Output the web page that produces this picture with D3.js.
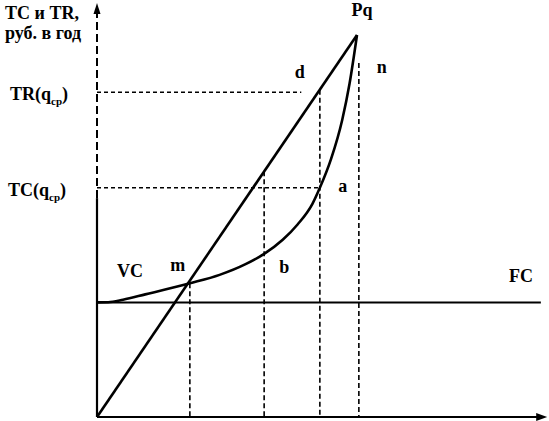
<!DOCTYPE html>
<html>
<head>
<meta charset="utf-8">
<script src="https://cdn.jsdelivr.net/npm/d3@7"></script>
<style>
html,body{margin:0;padding:0;background:#fff;}
svg{display:block;}
text{font-family:"Liberation Serif","Times New Roman",serif;font-weight:bold;fill:#000;}
</style>
</head>
<body>
<svg id="chart" width="549" height="421"></svg>
<script>
// ---- data ----
// TR (revenue) line: quantity vs value
const trQ = [0, 7];
const trV = [0, 100];
// VC/TC curve (starts on FC level)
const vcQ = [0, 0.3, 0.7, 1.3, 2.5, 3.3, 4.0, 4.5, 5.0, 5.4, 5.8, 6.0, 6.3, 6.6, 6.8, 7];
const vcV = [30, 30.05, 30.7, 32.1, 35, 37.2, 40.0, 42.7, 46.4, 50.4, 55.8, 60, 67.5, 77.7, 87.3, 100];
// fixed costs level
const fcValue = 30;
// vertical guide lines: quantity and top value
const guideQ = [2.5, 4.5, 6, 7.05];
const guideTop = [35, 64.3, 85.7, 92.7];
// horizontal guide lines: value and end quantity
const hGuideV = [85, 60];
const hGuideEnd = [5.5, 6];
// axis extents
const xAxisMax = 12.12;
const yAxisMax = 108.4;
const ySolidTop = 57.3;
// labels
const yTitle = ["TC и TR,", "руб. в год"];
const pointLabels = ["Pq", "d", "n", "a", "b", "m", "VC", "FC"];

// ---- scales ----
const x = d3.scaleLinear().domain([0, 7]).range([97, 357]);
const y = d3.scaleLinear().domain([0, 100]).range([417, 35]);

const svg = d3.select("#chart");

// horizontal guides
svg.selectAll(".hg").data(hGuideV).enter().append("line")
  .attr("x1", x(0)).attr("x2", (d, i) => x(hGuideEnd[i]))
  .attr("y1", d => y(d)).attr("y2", d => y(d))
  .attr("stroke", "#000").attr("stroke-width", 1.6).attr("stroke-dasharray", "4,3");

// vertical guides
svg.selectAll(".vg").data(guideQ).enter().append("line")
  .attr("x1", d => x(d)).attr("x2", d => x(d))
  .attr("y1", (d, i) => y(guideTop[i])).attr("y2", y(0))
  .attr("stroke", "#000").attr("stroke-width", 1.6).attr("stroke-dasharray", "5,3");

// FC line
svg.append("line")
  .attr("x1", x(0)).attr("x2", x(11.95))
  .attr("y1", y(fcValue)).attr("y2", y(fcValue))
  .attr("stroke", "#000").attr("stroke-width", 2);

// axes
svg.append("line").attr("x1", x(0)).attr("x2", x(0))
  .attr("y1", y(0)).attr("y2", y(ySolidTop))
  .attr("stroke", "#000").attr("stroke-width", 2.2);
svg.append("line").attr("x1", x(0)).attr("x2", x(0))
  .attr("y1", y(ySolidTop)).attr("y2", y(yAxisMax) + 8)
  .attr("stroke", "#000").attr("stroke-width", 2).attr("stroke-dasharray", "8,4");
svg.append("line").attr("x1", x(0)).attr("x2", x(xAxisMax) - 8)
  .attr("y1", y(0)).attr("y2", y(0))
  .attr("stroke", "#000").attr("stroke-width", 2.2);
// arrowheads
const yt = y(yAxisMax), xt = x(xAxisMax);
svg.append("path").attr("d", `M${x(0)},${yt} L${x(0)-3.5},${yt+11} L${x(0)+3.5},${yt+11} Z`).attr("fill", "#000");
svg.append("path").attr("d", `M${xt},${y(0)} L${xt-11},${y(0)-4} L${xt-11},${y(0)+4} Z`).attr("fill", "#000");

// TR line
const line = d3.line().x(d => x(d[0])).y(d => y(d[1]));
svg.append("path").datum(trQ.map((q, i) => [q, trV[i]]))
  .attr("d", line).attr("fill", "none").attr("stroke", "#000").attr("stroke-width", 2.6);

// VC curve
const curve = d3.line().x(d => x(d[0])).y(d => y(d[1])).curve(d3.curveMonotoneX);
svg.append("path").datum(vcQ.map((q, i) => [q, vcV[i]]))
  .attr("d", curve).attr("fill", "none").attr("stroke", "#000").attr("stroke-width", 2.6);

// y title
svg.append("text").attr("x", 5).attr("y", 19).attr("font-size", 18).text(yTitle[0]);
svg.append("text").attr("x", 5).attr("y", 39).attr("font-size", 18).text(yTitle[1]);

// TR(qср), TC(qср)
function subLabel(prefix, yy, xx) {
  const t = svg.append("text").attr("x", xx).attr("y", yy).attr("font-size", 18);
  t.append("tspan").text(prefix + "(q");
  t.append("tspan").attr("font-size", 11).attr("dy", 5).text("ср");
  t.append("tspan").attr("dy", -5).text(")");
}
subLabel("TR", y(hGuideV[0]) + 8, 10);
subLabel("TC", y(hGuideV[1]) + 8, 8);

// point labels
const labelPos = {
  "Pq": [x(7) + 5, 16],
  "d": [x(6) - 20, y(85.7) - 12],
  "n": [x(7.05) + 23, y(92.7) + 10],
  "a": [x(6) + 23, y(60) + 4],
  "b": [x(4.5) + 20, y(43) + 20],
  "m": [x(2.5) - 12, y(35) - 12],
  "VC": [130, y(fcValue) - 25],
  "FC": [521, y(fcValue) - 20]
};
svg.selectAll(".pl").data(pointLabels).enter().append("text")
  .attr("x", d => labelPos[d][0]).attr("y", d => labelPos[d][1])
  .attr("text-anchor", "middle").attr("font-size", 18).text(d => d);
</script>
</body>
</html>
